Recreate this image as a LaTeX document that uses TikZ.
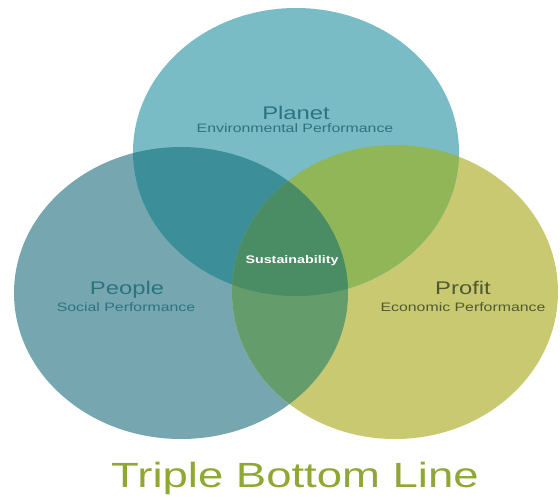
\documentclass[tikz,border=0pt]{standalone}
\usepackage{fontspec}
\usepackage{tikz}
\usepackage{xcolor}
\newfontfamily\tblfont[FakeStretch=1.3]{Liberation Sans}
\definecolor{planet-fill}{HTML}{79BCC6}
\definecolor{people-fill}{HTML}{76A7B0}
\definecolor{profit-fill}{HTML}{C9C971}
\definecolor{planet-people}{HTML}{3C8F99}
\definecolor{planet-profit}{HTML}{90B658}
\definecolor{people-profit}{HTML}{659C6C}
\definecolor{all-three}{HTML}{4A8D64}
\definecolor{teal-text}{HTML}{2C7380}
\definecolor{olive-text}{HTML}{4E5B30}
\definecolor{title-green}{HTML}{8FA834}
\newcommand{\planetpath}{(296,152) ellipse [x radius=163, y radius=144]}
\newcommand{\peoplepath}{(181,293) ellipse [x radius=167, y radius=146]}
\newcommand{\profitpath}{(395,292) ellipse [x radius=163, y radius=147]}
\tikzset{
    big-label/.style = {font=\tblfont\fontsize{18.3}{20}\selectfont, inner sep=0pt, anchor=base},
    small-label/.style = {font=\tblfont\fontsize{12.2}{14}\selectfont, inner sep=0pt, anchor=base},
}

\begin{document}
\begin{tikzpicture}[x=1pt, y=-1pt]
\useasboundingbox (0,0) rectangle (560,499);
\fill[people-fill] \peoplepath;
\fill[profit-fill] \profitpath;
\fill[planet-fill] \planetpath;
% overlaps
\begin{scope}
    \clip \planetpath;
    \fill[planet-people] \peoplepath;
\end{scope}
\begin{scope}
    \clip \planetpath;
    \fill[planet-profit] \profitpath;
\end{scope}
\begin{scope}
    \clip \peoplepath;
    \fill[people-profit] \profitpath;
\end{scope}
\begin{scope}
    \clip \planetpath;
    \clip \peoplepath;
    \fill[all-three] \profitpath;
\end{scope}
% labels
\node[big-label, text=teal-text] (planet) at (296,119) {Planet};
\node[small-label, text=teal-text] (planet-sub) at (295,132) {Environmental Performance};
\node[big-label, text=teal-text] (people) at (127,294) {People};
\node[small-label, text=teal-text] (people-sub) at (126,311) {Social Performance};
\node[big-label, text=olive-text] (profit) at (463,294) {Profit};
\node[small-label, text=olive-text] (profit-sub) at (463,311) {Economic Performance};
\node[small-label, text=white, font=\tblfont\bfseries\fontsize{11}{13}\selectfont] (core) at (292,263) {Sustainability};
\node[anchor=base, inner sep=0pt, text=title-green, font=\tblfont\fontsize{35}{40}\selectfont] (title) at (295,487) {Triple Bottom Line};
\end{tikzpicture}
\end{document}
